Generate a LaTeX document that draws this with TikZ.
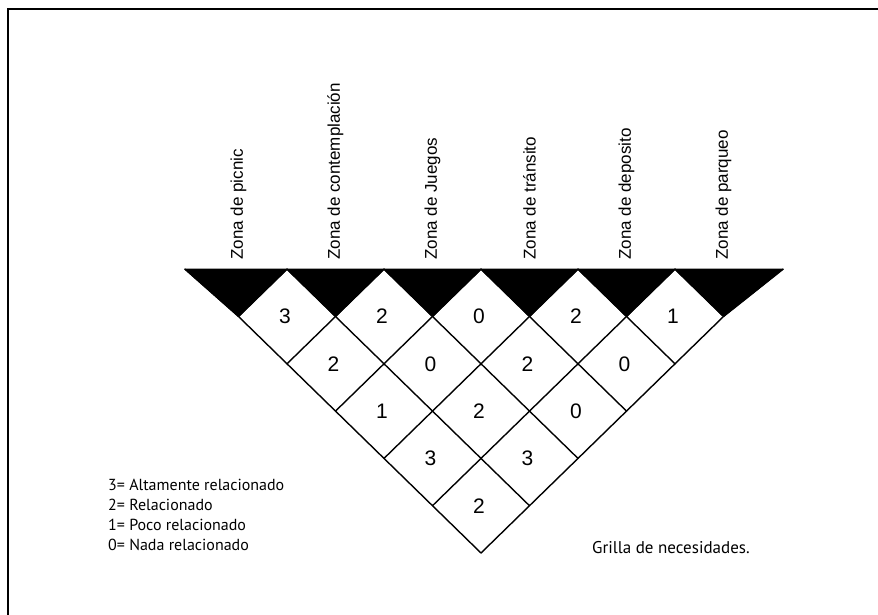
\documentclass[tikz,border=0pt]{standalone}
\usepackage{fontspec}
\setmainfont{Liberation Sans}
\newfontfamily\legendfont{PT Sans}
\begin{document}
\begin{tikzpicture}[x=1pt,y=-1pt,
  gridline/.style={line width=1.4pt, line cap=round, line join=round},
  blackcap/.style={fill=black, draw=black, line width=1pt, line join=round},
  zone/.style={rotate=90, anchor=west, inner sep=0pt, font=\fontsize{17}{20}\selectfont},
  val/.style={inner sep=0pt, font=\fontsize{21}{24}\selectfont},
  legend/.style={anchor=base west, inner sep=0pt, font=\legendfont\fontsize{16}{19}\selectfont}]
\useasboundingbox (0,0) rectangle (878,615);
% frame
\coordinate (f1) at (8,615);
\coordinate (f2) at (8,9);
\coordinate (f3) at (878,9);
\draw[line width=2pt] (f1) -- (f2) -- (f3);
% lattice points
\foreach \a in {0,...,6}{
  \foreach \b in {0,...,6}{
    \pgfmathsetmacro\px{481+48.5*(\b-\a)}
    \pgfmathsetmacro\py{553-47.3*(\a+\b)}
    \coordinate (p\a-\b) at (\px,\py);
  }
}
\coordinate (L) at (185,269.2);
\coordinate (R) at (783,269.2);
% black caps
\fill[blackcap] (L) -- (p5-1) -- (p5-0) -- cycle;
\foreach \k in {1,...,4}{
  \pgfmathtruncatemacro\ka{6-\k}
  \pgfmathtruncatemacro\kb{5-\k}
  \pgfmathtruncatemacro\kc{\k+1}
  \fill[blackcap] (p\ka-\k) -- (p\kb-\kc) -- (p\kb-\k) -- cycle;
}
\fill[blackcap] (p1-5) -- (R) -- (p0-5) -- cycle;
% grid lines
\draw[gridline] (L) -- (R);
\draw[gridline] (L) -- (p5-0) -- (p0-0) -- (p0-5) -- (R);
\foreach \b in {1,...,5}{
  \pgfmathtruncatemacro\e{6-\b}
  \draw[gridline] (p0-\b) -- (p\e-\b);
}
\foreach \a in {1,...,5}{
  \pgfmathtruncatemacro\e{6-\a}
  \draw[gridline] (p\a-0) -- (p\a-\e);
}
% values
\foreach \i/\j/\v in {4/0/3,3/1/2,2/2/0,1/3/2,0/4/1,
                      3/0/2,2/1/0,1/2/2,0/3/0,
                      2/0/1,1/1/2,0/2/0,
                      1/0/3,0/1/3,
                      0/0/2}{
  \pgfmathsetmacro\cx{481+48.5*(\j-\i)-2}
  \pgfmathsetmacro\cy{553-47.3*(\i+\j+1)}
  \node[val] (v\i-\j) at (\cx,\cy) {\v};
}
% zone labels
\node[zone] (z1) at (238.5,260) {Zona de picnic};
\node[zone] (z2) at (335.5,260) {Zona de contemplación};
\node[zone] (z3) at (432.5,260) {Zona de Juegos};
\node[zone] (z4) at (529.5,260) {Zona de tránsito};
\node[zone] (z5) at (626.5,260) {Zona de deposito};
\node[zone] (z6) at (723.5,260) {Zona de parqueo};
% legend
\node[legend] (l3) at (108,490) {3= Altamente relacionado};
\node[legend] (l2) at (108,510) {2= Relacionado};
\node[legend] (l1) at (108,530) {1= Poco relacionado};
\node[legend] (l0) at (108,550) {0= Nada relacionado};
\node[legend, font=\legendfont\fontsize{17}{20}\selectfont] (cap) at (592,553) {Grilla de necesidades.};
\end{tikzpicture}
\end{document}
